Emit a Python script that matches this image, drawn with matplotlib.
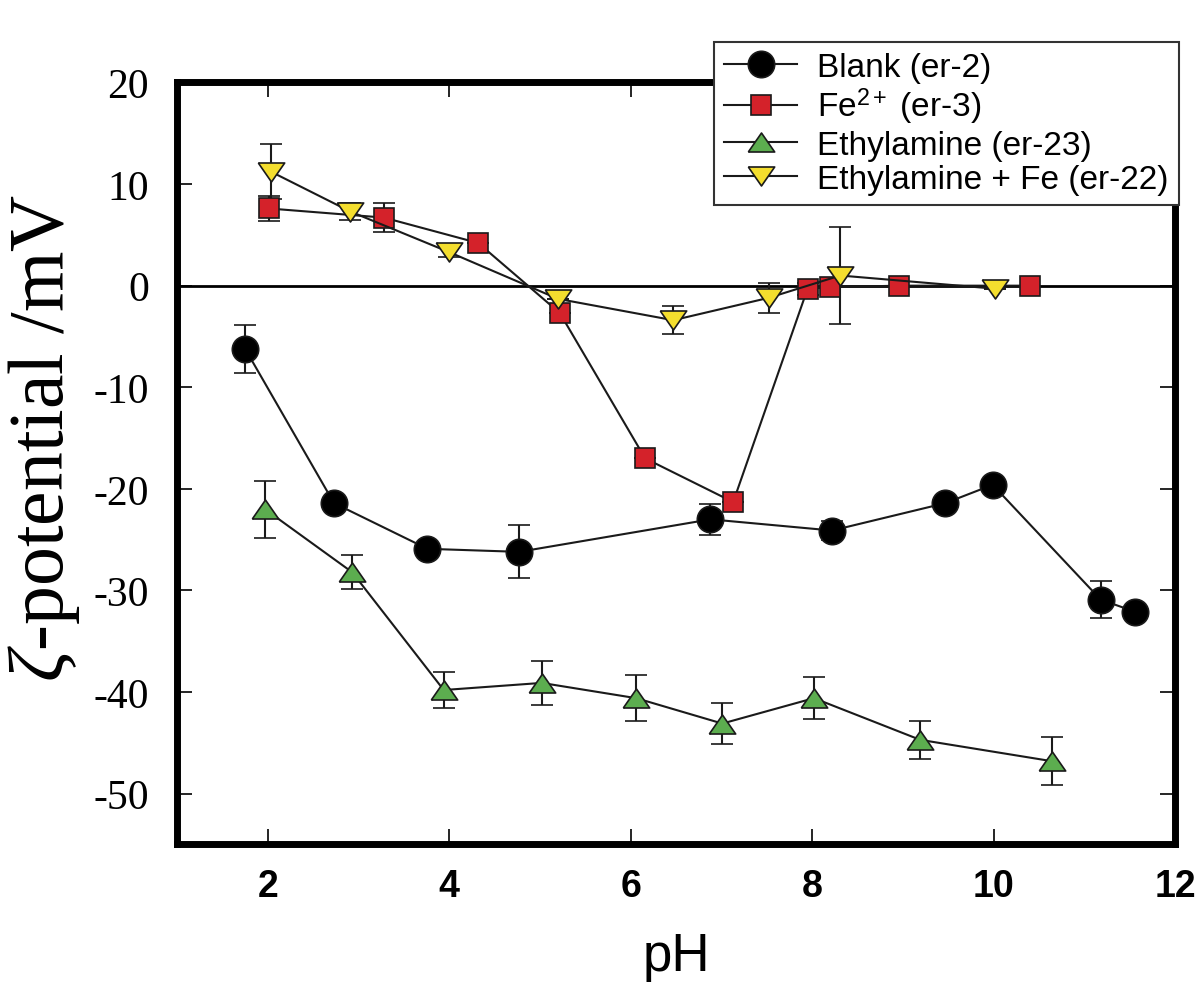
import numpy as np
import matplotlib
matplotlib.use("Agg")
import matplotlib.pyplot as plt
from matplotlib.lines import Line2D

plt.rcParams['mathtext.fontset'] = 'custom'
plt.rcParams['mathtext.rm'] = 'Liberation Sans'
plt.rcParams['mathtext.it'] = 'Liberation Serif:italic'
plt.rcParams['axes.unicode_minus'] = False

# data: pH, zeta potential (mV), error
blank_x = [1.75, 2.73, 3.76, 4.77, 6.88, 8.22, 9.47, 9.99, 11.18, 11.56]
blank_y = [-6.2, -21.4, -25.9, -26.2, -23.0, -24.1, -21.4, -19.6, -30.9, -32.1]
blank_e = [2.35, 0, 0, 2.6, 1.5, 0.9, 0, 0, 1.8, 0]

fe_x = [2.01, 3.28, 4.32, 5.22, 6.16, 7.13, 7.95, 8.2, 8.96, 10.4]
fe_y = [7.6, 6.7, 4.2, -2.7, -17.0, -21.3, -0.3, -0.15, 0.0, 0.0]
fe_e = [1.2, 1.4, 0, 0, 0, 0, 0.6, 0, 0, 0]

ea_x = [1.97, 2.93, 3.94, 5.02, 6.06, 7.01, 8.02, 9.19, 10.64]
ea_y = [-22.0, -28.2, -39.8, -39.1, -40.6, -43.1, -40.6, -44.7, -46.8]
ea_e = [2.8, 1.7, 1.8, 2.2, 2.25, 2.05, 2.1, 1.9, 2.35]

eafe_x = [2.04, 2.91, 4.0, 5.2, 6.47, 7.52, 8.31, 10.02]
eafe_y = [11.2, 7.3, 3.3, -1.3, -3.4, -1.2, 1.0, -0.3]
eafe_e = [2.7, 0.8, 0.5, 0, 1.4, 1.5, 4.8, 0]

labels = ["Blank (er-2)", "Fe$^{\\mathrm{2+}}$ (er-3)",
          "Ethylamine (er-23)", "Ethylamine + Fe (er-22)"]

# flattened triangles
tri_up = [(-1, -0.72), (1, -0.72), (0, 0.72), (-1, -0.72)]
tri_down = [(-1, 0.72), (1, 0.72), (0, -0.72), (-1, 0.72)]

fig = plt.figure(figsize=(12, 9.95), dpi=100)
ax = fig.add_axes([0.1475, 0.1503, 0.8317, 0.7658])

ax.axhline(0, color="black", lw=2, zorder=1)

series = [
    (blank_x, blank_y, blank_e, "o", 19, "black"),
    (fe_x, fe_y, fe_e, "s", 15, "#d4222a"),
    (ea_x, ea_y, ea_e, tri_up, 19, "#5cad4f"),
    (eafe_x, eafe_y, eafe_e, tri_down, 19, "#f4de2e"),
]
handles = []
for (x, y, e, m, ms, c), lab in zip(series, labels):
    ax.errorbar(x, y, yerr=e, fmt="-", color="#1a1a1a", lw=1.5,
                marker=m, ms=ms, mfc=c, mec="#1a1a1a", mew=1.2,
                ecolor="#1a1a1a", elinewidth=1.5, capsize=8, capthick=1.5,
                zorder=3)
    handles.append(Line2D([], [], color="#1a1a1a", lw=1.5, marker=m,
                          ms=ms, mfc=c, mec="#1a1a1a", mew=1.2,
                          label=lab))

ax.set_xlim(1, 12)
ax.set_ylim(-55, 20)
ax.set_xticks([2, 4, 6, 8, 10, 12])
ax.set_yticks([20, 10, 0, -10, -20, -30, -40, -50])

for s in ax.spines.values():
    s.set_linewidth(5)
ax.tick_params(direction="in", length=11, width=1.2, top=True, right=True)
ax.tick_params(axis="y", pad=20)
ax.tick_params(axis="x", pad=17)

for t in ax.get_yticklabels():
    t.set_fontfamily("Liberation Serif")
    t.set_fontsize(30)
for t in ax.get_xticklabels():
    t.set_fontfamily("Liberation Sans")
    t.set_fontweight("bold")
    t.set_fontsize(27)

ax.set_ylabel("$\\zeta$-potential /mV", family="Liberation Serif",
              fontsize=56, va="center")
ax.yaxis.set_label_coords(-0.133, 0.535)
ax.set_xlabel("pH", family="Liberation Sans", fontsize=38, va="center")
ax.xaxis.set_label_coords(0.5, -0.146)

leg = ax.legend(handles=handles, loc="upper left",
                bbox_to_anchor=(0.595, 0.957), bbox_transform=fig.transFigure,
                borderaxespad=0, fancybox=False, framealpha=1,
                edgecolor="#333333", prop={"family": "Liberation Sans", "size": 24},
                handlelength=2.2, labelspacing=0.1, borderpad=0.3,
                handletextpad=0.6)
leg.get_frame().set_linewidth(1.5)
leg.set_zorder(5)

fig.savefig("out.png", dpi=100)
